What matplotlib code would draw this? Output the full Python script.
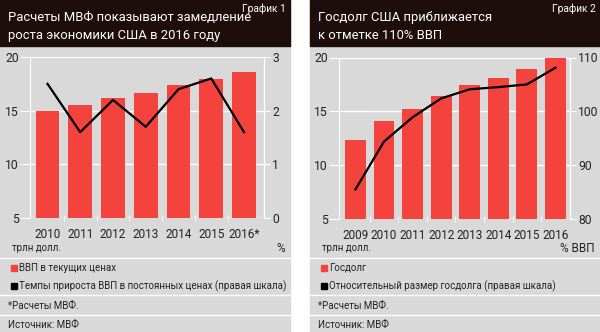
import matplotlib
matplotlib.use('Agg')
import matplotlib.pyplot as plt
from matplotlib.patches import Rectangle
from matplotlib.lines import Line2D

plt.rcParams['font.family'] = ['Roboto', 'DejaVu Sans']

# chart 1: GDP
years1 = ['2010', '2011', '2012', '2013', '2014', '2015', '2016*']
gdp_current = [14.96, 15.52, 16.16, 16.66, 17.35, 17.95, 18.56]
gdp_growth = [2.5, 1.6, 2.2, 1.7, 2.4, 2.6, 1.6]

# chart 2: public debt
years2 = ['2009', '2010', '2011', '2012', '2013', '2014', '2015', '2016']
debt = [12.3, 14.1, 15.2, 16.4, 17.4, 18.1, 18.9, 20.0]
debt_to_gdp = [85.5, 94.4, 98.9, 102.4, 104.1, 104.5, 105.0, 108.1]

W, H = 600, 332
GREY = '#d9d9d9'
DARK = '#1e0e0b'
RED = '#f4423c'
TXT = '#222222'
FS_TITLE = 9.4
FS_TICK = 8.5
FS_YTICK = 8.7
FS_SMALL = 7.0


def fx(x):
    return x / W


def fy(y):
    return 1 - y / H


def hline(fig, x0, x1, y):
    fig.add_artist(Line2D([fx(x0), fx(x1)], [fy(y), fy(y)], color='white',
                          lw=1, transform=fig.transFigure))


def panel(fig, x0, x1, title, label, box, cats, bars, line,
          ylim2, yticks2, xlim, unit2, leg1, leg2):
    # background and header
    fig.add_artist(Rectangle((fx(x0), 0), fx(x1 - x0), 1, color=GREY,
                             transform=fig.transFigure, zorder=0))
    fig.add_artist(Rectangle((fx(x0), fy(46)), fx(x1 - x0), 46 / H, color=DARK,
                             transform=fig.transFigure, zorder=0))
    fig.text(fx(x0 + 8), fy(21), title[0], color='white', fontsize=FS_TITLE)
    fig.text(fx(x0 + 8), fy(39), title[1], color='white', fontsize=FS_TITLE)
    fig.text(fx(x1 - 4), fy(12), label, color='white', fontsize=7.3,
             ha='right')

    ax = fig.add_axes(box)
    ax.patch.set_visible(False)
    xs = range(len(cats))
    ax.bar(xs, bars, width=0.73, color=RED, zorder=2)
    ax.set_ylim(5, 20)
    ax.set_yticks([5, 10, 15, 20])
    ax.set_xlim(*xlim)
    ax.set_xticks(list(xs))
    ax.set_xticklabels(cats)
    ax.set_xticks([i + 0.5 for i in xs][:-1], minor=True)
    ax.grid(axis='y', color='white', lw=1)
    ax.set_axisbelow(True)
    for s in ['top', 'bottom']:
        ax.spines[s].set_visible(False)
    for s in ['left', 'right']:
        ax.spines[s].set_color('white')
    ax.tick_params(axis='y', colors='white', labelcolor=TXT, length=7,
                   labelsize=FS_YTICK, pad=1)
    ax.tick_params(axis='x', which='major', length=0, labelsize=FS_TICK,
                   labelcolor=TXT, pad=7)
    ax.tick_params(axis='x', which='minor', colors='white', length=5,
                   direction='inout')

    ax2 = ax.twinx()
    ax2.plot(xs, line, color='black', lw=1.6, zorder=3)
    ax2.set_ylim(*ylim2)
    ax2.set_yticks(yticks2)
    for s in ['top', 'bottom', 'left']:
        ax2.spines[s].set_visible(False)
    ax2.spines['right'].set_color('white')
    ax2.tick_params(axis='y', colors='white', labelcolor=TXT, length=4,
                    labelsize=FS_YTICK, pad=2)

    fig.text(fx(x0 + 12), fy(248), 'трлн долл.', color=TXT,
             fontsize=FS_SMALL, va='center')
    fig.text(fx(x1 - 5), fy(248), unit2, color=TXT, fontsize=FS_TICK,
             va='center', ha='right')

    hline(fig, x0, x1, 258)
    hline(fig, x0, x1, 295)
    hline(fig, x0, x1, 315)

    # legend
    for yc, col, txt in [(268, RED, leg1), (286, 'black', leg2)]:
        fig.add_artist(Rectangle((fx(x0 + 11), fy(yc + 3)), fx(6), 6 / H,
                                 color=col, transform=fig.transFigure))
        fig.text(fx(x0 + 19), fy(yc), txt, color=TXT, fontsize=FS_SMALL,
                 va='center')

    fig.text(fx(x0 + 8), fy(306), '*Расчеты МВФ.', color=TXT,
             fontsize=FS_SMALL, va='center')
    fig.text(fx(x0 + 8), fy(325), 'Источник: МВФ', color=TXT,
             fontsize=FS_SMALL, va='center')


fig = plt.figure(figsize=(6, 3.32), dpi=100)
fig.patch.set_facecolor('white')

panel(fig, 0, 290,
      ['Расчеты МВФ показывают замедление', 'роста экономики США в 2016 году'],
      'График 1',
      [fx(30), fy(218), fx(264) - fx(30), (218 - 57) / H],
      years1, gdp_current, gdp_growth, (0, 3), [0, 1, 2, 3],
      (-0.534, 6.61), '%',
      'ВВП в текущих ценах',
      'Темпы прироста ВВП в постоянных ценах (правая шкала)')

panel(fig, 310, 600,
      ['Госдолг США приближается', 'к отметке 110% ВВП'],
      'График 2',
      [fx(339), fy(219), fx(570) - fx(339), (219 - 57.5) / H],
      years2, debt, debt_to_gdp, (80, 110), [80, 90, 100, 110],
      (-0.577, 7.51), '% ВВП',
      'Госдолг',
      'Относительный размер госдолга (правая шкала)')

fig.savefig('out.png', dpi=100)
